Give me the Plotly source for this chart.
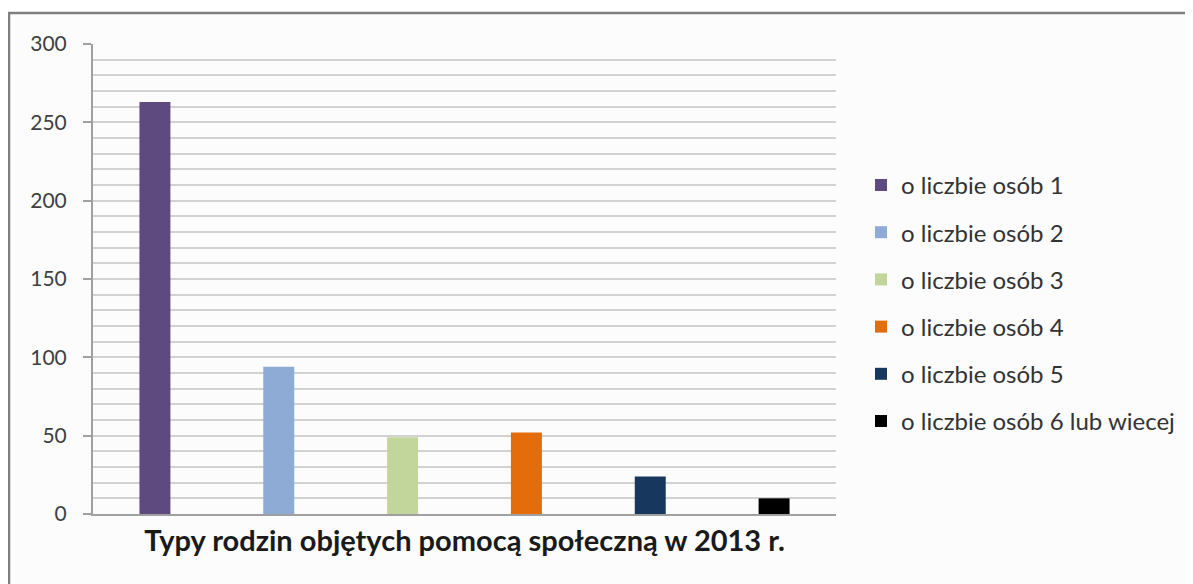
import plotly.graph_objects as go

category = ["Typy rodzin objętych pomocą społeczną w 2013 r."]
series_names = [
    "o liczbie osób 1",
    "o liczbie osób 2",
    "o liczbie osób 3",
    "o liczbie osób 4",
    "o liczbie osób 5",
    "o liczbie osób 6 lub wiecej",
]
series_values = [263, 94, 49, 52, 24, 10]
series_colors = ["#5f4a7f", "#8eabd6", "#c2d69b", "#e46c0a", "#17375e", "#000000"]
y_tick_vals = [0, 50, 100, 150, 200, 250, 300]

fig = go.Figure()
for i, (name, val, col) in enumerate(zip(series_names, series_values, series_colors)):
    fig.add_trace(go.Bar(
        x=category, y=[val], name=name,
        marker=dict(color=col, line=dict(width=0)),
        legendgroup=f"g{i}",
    ))

PL, PR, PT, PB = 85, 828, 36, 506
W, H = 1193, 584
pw, ph = PR - PL, PB - PT

fig.update_layout(
    width=W, height=H,
    margin=dict(l=PL, r=W - PR, t=PT, b=H - PB),
    paper_bgcolor="white",
    plot_bgcolor="rgba(0,0,0,0)",
    barmode="group", bargap=0.0, bargroupgap=0.75,
    font=dict(family="Lato, 'Open Sans', sans-serif", color="#404040"),
    showlegend=True,
    legend=dict(
        x=(853 - PL) / pw, xanchor="left", y=0.747, yanchor="top",
        font=dict(size=24, color="#333333"),
        traceorder="grouped", tracegroupgap=13,
        bgcolor="rgba(0,0,0,0)",
    ),
    shapes=[dict(
        type="rect", xref="paper", yref="paper",
        x0=(1 - PL) / pw, x1=(1205 - PL) / pw,
        y0=(PB - 600) / ph, y1=(PB - 5) / ph,
        line=dict(color="#7f7f7f", width=2.5),
        fillcolor="#fcfcfc", layer="below",
    )],
)

fig.update_xaxes(
    showline=True, linecolor="#a0a0a0", linewidth=2,
    showgrid=False, ticks="",
    tickfont=dict(size=29, color="#1a1a1a", weight="bold"),
)
fig.update_yaxes(
    range=[0, 300], tickvals=y_tick_vals,
    showline=True, linecolor="#a0a0a0", linewidth=2,
    ticks="outside", ticklen=8, tickcolor="#a0a0a0", tickwidth=1.5,
    showgrid=True, gridcolor="#d2d2d2", gridwidth=1.8,
    minor=dict(dtick=10, showgrid=True, gridcolor="#d2d2d2", gridwidth=1.8, ticks=""),
    tickfont=dict(size=21, color="#404040"),
    ticklabelstandoff=12,
    zeroline=False,
)

fig.write_html("out.html")
